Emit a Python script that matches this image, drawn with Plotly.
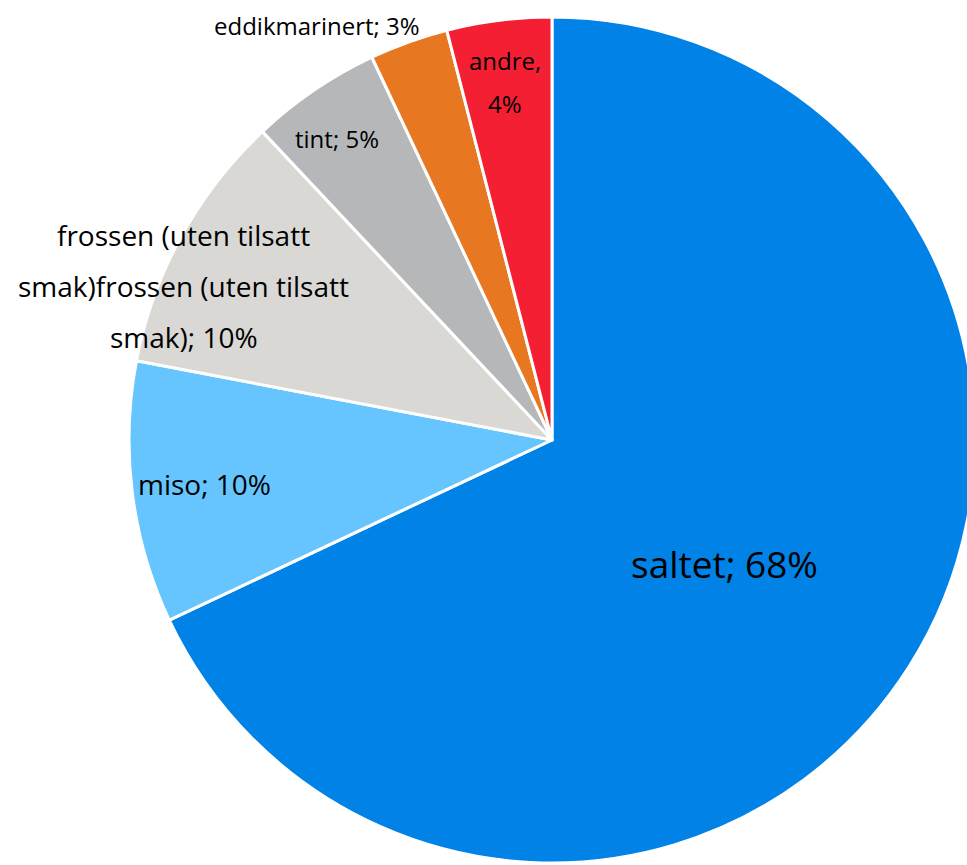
import math

import plotly.graph_objects as go


labels = ['saltet', 'miso', 'frossen (uten tilsatt smak)frossen (uten tilsatt smak)',
          'tint', 'eddikmarinert', 'andre']
values = [68, 10, 10, 5, 3, 4]
label_lines = [
    ['saltet; 68%'],
    ['miso; 10%'],
    ['frossen (uten tilsatt', 'smak)frossen (uten tilsatt', 'smak); 10%'],
    ['tint; 5%'],
    ['eddikmarinert; 3%'],
    ['andre,', '4%'],
]
colors = ['#0082E6', '#66C5FF', '#D9D8D5', '#B6B7B9', '#E87722', '#F51F34']

W, H = 980, 865
CX, CY, R = 552, 440, 423

# label placement: radius fraction, pixel nudges, font size, line gap
label_style = [
    dict(frac=0.50, dx=-6, dy=10, size=37, gap=0),
    dict(frac=0.827, dx=0, dy=0, size=28, gap=0),
    dict(frac=0.945, dx=-18, dy=39, size=28, gap=51),
    dict(frac=0.873, dx=-7, dy=4, size=24, gap=0),
    dict(frac=1.128, dx=-73, dy=34, size=24, gap=0),
    dict(frac=0.853, dx=-2, dy=0, size=24, gap=43),
]


def label_annotations():
    total = sum(values)
    start = 0.0
    annotations = []
    for lines, value, st in zip(label_lines, values, label_style):
        mid = (start + value / 2) / total * 2 * math.pi
        start += value
        px = CX + st['frac'] * R * math.sin(mid) + st['dx']
        py = CY - st['frac'] * R * math.cos(mid) + st['dy']
        n = len(lines)
        for i, line in enumerate(lines):
            annotations.append(dict(
                x=px / W,
                y=1 - py / H,
                xref='paper',
                yref='paper',
                text=line,
                showarrow=False,
                xanchor='center',
                yanchor='middle',
                yshift=-(i - (n - 1) / 2) * st['gap'],
                font=dict(size=st['size'], color='#000000'),
            ))
    return annotations


fig = go.Figure(
    data=[
        go.Pie(
            labels=labels,
            values=values,
            sort=False,
            direction='clockwise',
            rotation=0,
            textinfo='none',
            hoverinfo='label+percent',
            marker=dict(
                colors=colors,
                line=dict(color='white', width=3)),
            domain=dict(
                x=[(CX - R) / W, (CX + R) / W],
                y=[(H - CY - R) / H, (H - CY + R) / H]),
        )
    ],
    layout=go.Layout(
        width=W,
        height=H,
        margin=dict(l=0, r=0, t=0, b=0),
        showlegend=False,
        paper_bgcolor='white',
        font=dict(family='Open Sans, Noto Sans, sans-serif'),
        annotations=label_annotations(),
    )
)

# drop the page margin and scrollbars so the figure sits at the window corner
fig.write_html(
    'out.html',
    config=dict(displayModeBar=False),
    post_script="document.body.style.margin='0';"
                "document.body.style.overflow='hidden';",
)
